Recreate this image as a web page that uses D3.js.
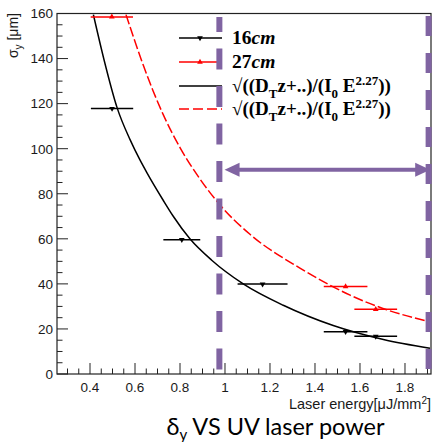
<!DOCTYPE html>
<html>
<head>
<meta charset="utf-8">
<script src="https://cdn.jsdelivr.net/npm/d3@7"></script>
<style>
  html, body { margin: 0; padding: 0; background: #fff; }
  svg { display: block; }
</style>
</head>
<body>
<svg id="chart" width="432" height="442"></svg>
<script>
// ---- data ----
const energy16 = [0.498, 0.808, 1.167, 1.536, 1.670];
const sigma16  = [117.8, 59.6, 39.9, 18.8, 16.7];
const xerr16   = [0.094, 0.082, 0.111, 0.097, 0.095];

const energy27 = [0.497, 1.536, 1.670];
const sigma27  = [158.5, 38.8, 28.7];
const xerr27   = [0.094, 0.097, 0.095];

const fitEnergy16 = [0.415, 0.462, 0.521, 0.578, 0.622, 0.652, 0.726, 0.770, 0.844, 0.941, 1.081, 1.259, 1.481, 1.704, 1.911];
const fitSigma16  = [159.5, 139.6, 118.0, 104.0, 95.0, 89.5, 77.0, 70.0, 60.0, 50.5, 40.0, 30.5, 21.5, 15.3, 11.4];

const fitEnergy27 = [0.560, 0.637, 0.681, 0.726, 0.800, 0.889, 0.978, 1.111, 1.333, 1.556, 1.719, 1.911];
const fitSigma27  = [159.5, 137.0, 125.5, 115.0, 100.5, 86.5, 75.0, 62.0, 47.0, 35.0, 28.5, 23.2];

const xTickLabels = ["0.4", "0.6", "0.8", "1", "1.2", "1.4", "1.6", "1.8"];
const yTickLabels = ["0", "20", "40", "60", "80", "100", "120", "140", "160"];
const markerValues = [0.975, 1.905]; // purple dashed markers (energy)
const arrowRange = [0.998, 1.912];
const arrowSigma = 90.6;

const svg = d3.select("#chart");
const L = 57, R = 431, T = 13.5, B = 374;
const x = d3.scaleLinear().domain([0.2533, 1.9156]).range([L, R]);
const y = d3.scaleLinear().domain([0, 160]).range([B, T]);

const purple = "#8064a2";
const axisFont = "'Liberation Sans', Arial, Helvetica, sans-serif";

// ---- ticks ----
const g = svg.append("g");
d3.range(0, 161, 5).forEach(v => {
  const major = v % 20 === 0;
  g.append("line").attr("x1", L).attr("x2", L + (major ? 11 : 5.5))
    .attr("y1", y(v)).attr("y2", y(v)).attr("stroke", "#222").attr("stroke-width", 1);
});
d3.range(30, 192, 5).map(v => v / 100).forEach(v => {
  const major = Math.round(v * 100) % 20 === 0;
  g.append("line").attr("x1", x(v)).attr("x2", x(v))
    .attr("y1", B).attr("y2", B - (major ? 11 : 5.5)).attr("stroke", "#222").attr("stroke-width", 1);
});

g.append("rect").attr("x", L).attr("y", T).attr("width", R - L).attr("height", B - T)
  .attr("fill", "none").attr("stroke", "#222").attr("stroke-width", 1.2);

yTickLabels.forEach(t => {
  g.append("text").attr("x", 53).attr("y", y(+t)).attr("dy", "0.36em")
    .attr("text-anchor", "end").attr("font-family", axisFont).attr("font-size", 13.5)
    .attr("fill", "#1a1a1a").text(t);
});
xTickLabels.forEach(t => {
  g.append("text").attr("x", x(+t)).attr("y", 392)
    .attr("text-anchor", "middle").attr("font-family", axisFont).attr("font-size", 13.5)
    .attr("fill", "#1a1a1a").text(t);
});

const xt = g.append("text").attr("x", 431).attr("y", 409).attr("text-anchor", "end")
  .attr("font-family", axisFont).attr("font-size", 14.5).attr("fill", "#1a1a1a");
xt.append("tspan").text("Laser energy[\u03bcJ/mm");
xt.append("tspan").attr("dy", -5).attr("font-size", 10).text("2");
xt.append("tspan").attr("dy", 5).text("]");

const yt = g.append("text").attr("transform", "translate(18,13) rotate(-90)")
  .attr("text-anchor", "end").attr("font-family", axisFont).attr("font-size", 14).attr("fill", "#1a1a1a");
yt.append("tspan").text("\u03c3");
yt.append("tspan").attr("dy", 4).attr("font-size", 10).text("y");
yt.append("tspan").attr("dy", -4).text(" [\u03bcm]");

// ---- fit curves ----
const line = d3.line().x(d => x(d[0])).y(d => y(d[1])).curve(d3.curveMonotoneX);
const clip = svg.append("clipPath").attr("id", "pc");
clip.append("rect").attr("x", L).attr("y", T).attr("width", R - L).attr("height", B - T);
const pg = svg.append("g").attr("clip-path", "url(#pc)");

pg.append("path").datum(d3.zip(fitEnergy16, fitSigma16)).attr("d", line)
  .attr("fill", "none").attr("stroke", "#000").attr("stroke-width", 1.5);
pg.append("path").datum(d3.zip(fitEnergy27, fitSigma27)).attr("d", line)
  .attr("fill", "none").attr("stroke", "#ff0000").attr("stroke-width", 1.5)
  .attr("stroke-dasharray", "10 3");

// ---- data points ----
function drawSeries(es, ss, xe, color, rot) {
  es.forEach((e, i) => {
    pg.append("line").attr("x1", x(e - xe[i])).attr("x2", x(e + xe[i]))
      .attr("y1", y(ss[i])).attr("y2", y(ss[i])).attr("stroke", color).attr("stroke-width", 1.5);
    pg.append("path").attr("d", d3.symbol(d3.symbolTriangle, 14)())
      .attr("transform", `translate(${x(e)},${y(ss[i])}) rotate(${rot})`).attr("fill", color);
  });
}
drawSeries(energy16, sigma16, xerr16, "#000", 180);
drawSeries(energy27, sigma27, xerr27, "#ff0000", 0);

// ---- legend ----
const lg = svg.append("g");
const lx1 = 179, lx2 = 222, lmx = 200;
const rows = [38, 62, 86, 109];
lg.append("line").attr("x1", lx1).attr("x2", lx2).attr("y1", rows[0]).attr("y2", rows[0]).attr("stroke", "#000").attr("stroke-width", 1.5);
lg.append("path").attr("d", d3.symbol(d3.symbolTriangle, 14)()).attr("transform", `translate(${lmx},${rows[0]}) rotate(180)`).attr("fill", "#000");
lg.append("line").attr("x1", lx1).attr("x2", lx2).attr("y1", rows[1]).attr("y2", rows[1]).attr("stroke", "#ff0000").attr("stroke-width", 1.5);
lg.append("path").attr("d", d3.symbol(d3.symbolTriangle, 14)()).attr("transform", `translate(${lmx},${rows[1]})`).attr("fill", "#ff0000");
lg.append("line").attr("x1", lx1).attr("x2", lx2).attr("y1", rows[2]).attr("y2", rows[2]).attr("stroke", "#000").attr("stroke-width", 1.5);
lg.append("line").attr("x1", lx1).attr("x2", lx2).attr("y1", rows[3]).attr("y2", rows[3]).attr("stroke", "#ff0000").attr("stroke-width", 1.5).attr("stroke-dasharray", "10 4");

const serif = "'Liberation Serif', 'Times New Roman', serif";
function cmLabel(txt, yy) {
  const t = lg.append("text").attr("x", 232).attr("y", yy).attr("font-family", serif)
    .attr("font-size", 19.5).attr("font-weight", "bold").attr("fill", "#000");
  t.append("tspan").text(txt);
  t.append("tspan").attr("font-style", "italic").text("cm");
}
cmLabel("16", 44);
cmLabel("27", 68);
function formula(yy) {
  const t = lg.append("text").attr("x", 232).attr("y", yy).attr("font-family", serif)
    .attr("font-size", 19).attr("font-weight", "bold").attr("fill", "#000");
  t.append("tspan").text("\u221a((D");
  t.append("tspan").attr("dy", 6).attr("font-size", 13).text("T");
  t.append("tspan").attr("dy", -6).text("z+..)/(I");
  t.append("tspan").attr("dy", 6).attr("font-size", 13).text("0");
  t.append("tspan").attr("dy", -6).text(" E");
  t.append("tspan").attr("dy", -7).attr("font-size", 13).text("2.27");
  t.append("tspan").attr("dy", 7).text("))");
}
formula(92);
formula(115);

// ---- purple overlay ----
const ov = svg.append("g");
ov.append("line").attr("x1", x(markerValues[0])).attr("x2", x(markerValues[0]))
  .attr("y1", 17).attr("y2", 370).attr("stroke", purple).attr("stroke-width", 6)
  .attr("stroke-dasharray", "21 16.5").attr("stroke-dashoffset", 6);
ov.append("line").attr("x1", x(markerValues[1])).attr("x2", x(markerValues[1]))
  .attr("y1", 16).attr("y2", 372).attr("stroke", purple).attr("stroke-width", 6)
  .attr("stroke-dasharray", "20 17");

const ay = y(arrowSigma);
const ax1 = x(arrowRange[0]), ax2 = x(arrowRange[1]);
ov.append("line").attr("x1", ax1 + 12).attr("x2", ax2 - 12).attr("y1", ay).attr("y2", ay)
  .attr("stroke", purple).attr("stroke-width", 4);
ov.append("path").attr("d", `M${ax1},${ay} L${ax1 + 15},${ay - 7} L${ax1 + 15},${ay + 7} Z`).attr("fill", purple);
ov.append("path").attr("d", `M${ax2},${ay} L${ax2 - 15},${ay - 7} L${ax2 - 15},${ay + 7} Z`).attr("fill", purple);

// ---- caption ----
const cap = svg.append("text").attr("x", 275.5).attr("y", 435).attr("text-anchor", "middle")
  .attr("font-family", "Lato, 'Open Sans', sans-serif").attr("font-size", 23.5).attr("fill", "#000");
cap.append("tspan").text("\u03b4");
cap.append("tspan").attr("dy", 5).attr("font-size", 15).text("y");
cap.append("tspan").attr("dy", -5).text(" VS UV laser power");
</script>
</body>
</html>
